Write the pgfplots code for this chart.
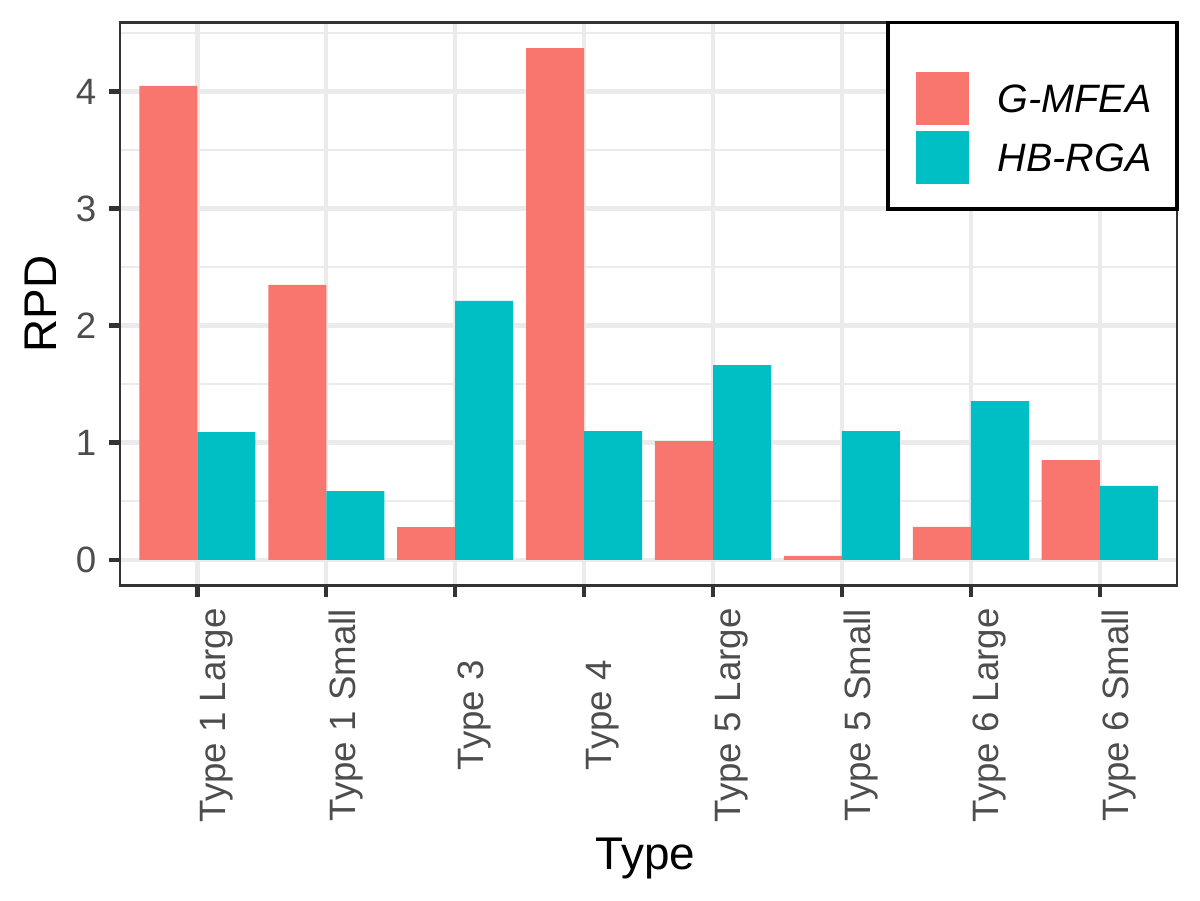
\documentclass[border=0pt]{standalone}
\usepackage{pgfplots}
\pgfplotsset{compat=1.18}
\usepackage{fontspec}
\setmainfont{Liberation Sans}
\setsansfont{Liberation Sans}
\definecolor{gmfea}{HTML}{F8766D}
\definecolor{hbrga}{HTML}{00BFC4}
\definecolor{grey92}{HTML}{EBEBEB}
\definecolor{grey20}{HTML}{333333}
\definecolor{grey30}{HTML}{4D4D4D}

\begin{document}
\begin{tikzpicture}
\useasboundingbox (-28.8pt,-75.5pt) rectangle (259.2pt,140.5pt);
\begin{axis}[
  at={(0,0)}, anchor=south west,
  scale only axis, width=253.7pt, height=135.1pt,
  xmin=-0.6, xmax=7.6, ymin=-0.2185, ymax=4.5885,
  clip=false,
  ybar, bar width=0.45,
  xtick={0,...,7},
  xticklabels={Type 1 Large,Type 1 Small,Type 3,Type 4,Type 5 Large,Type 5 Small,Type 6 Large,Type 6 Small},
  ytick={0,1,2,3,4},
  minor ytick={0.5,1.5,2.5,3.5,4.5},
  grid=both,
  major grid style={grey92, line width=1.07pt},
  minor grid style={grey92, line width=0.53pt},
  tick pos=left, tick align=outside,
  major tick length=2.75pt, minor tick length=0pt,
  tick style={grey20, line width=1.07pt},
  axis line style={grey20, line width=0.55pt},
  /pgf/number format/assume math mode=true,
  yticklabel style={font=\fontsize{8.8}{10}\selectfont, text=grey30, inner sep=0pt, anchor=east, xshift=-2.75pt},
  xticklabel style={font=\fontsize{8.8}{10}\selectfont, text=grey30, inner sep=0pt, yshift=-28.4pt, xshift=0.4pt, rotate=90, anchor=north},
  xlabel={Type},
  xlabel style={at={(axis description cs:0.497,-0.504)}, anchor=base, font=\fontsize{11}{13}\selectfont},
  ylabel={RPD},
  ylabel style={at={(axis description cs:-0.0596,0.5)}, anchor=base, font=\fontsize{11}{13}\selectfont},
  legend style={draw=none, fill=none, inner sep=0pt, at={(0.7521,0.9138)}, anchor=north west,
    row sep=1.5pt, column sep=7pt, font=\fontsize{9.5}{11}\selectfont\itshape,
    cells={anchor=west}, nodes={inner sep=0pt, text depth=0pt}},
  legend image code/.code={\path[#1, draw=none] (0pt,-6.33pt) rectangle (12.65pt,6.33pt);},
]
\addplot[fill=gmfea, draw=none, bar shift=-0.225] coordinates {
  (0,4.048) (1,2.348) (2,0.279) (3,4.370) (4,1.014) (5,0.034) (6,0.281) (7,0.852)
};
\addlegendentry{G-MFEA}
\addplot[fill=hbrga, draw=none, bar shift=0.225] coordinates {
  (0,1.091) (1,0.587) (2,2.211) (3,1.100) (4,1.662) (5,1.099) (6,1.355) (7,0.631)
};
\addlegendentry{HB-RGA}
\draw[black, line width=0.9pt, fill=white] (rel axis cs:0.7266,0.6686) rectangle (rel axis cs:1,1);
\end{axis}
\end{tikzpicture}
\end{document}
